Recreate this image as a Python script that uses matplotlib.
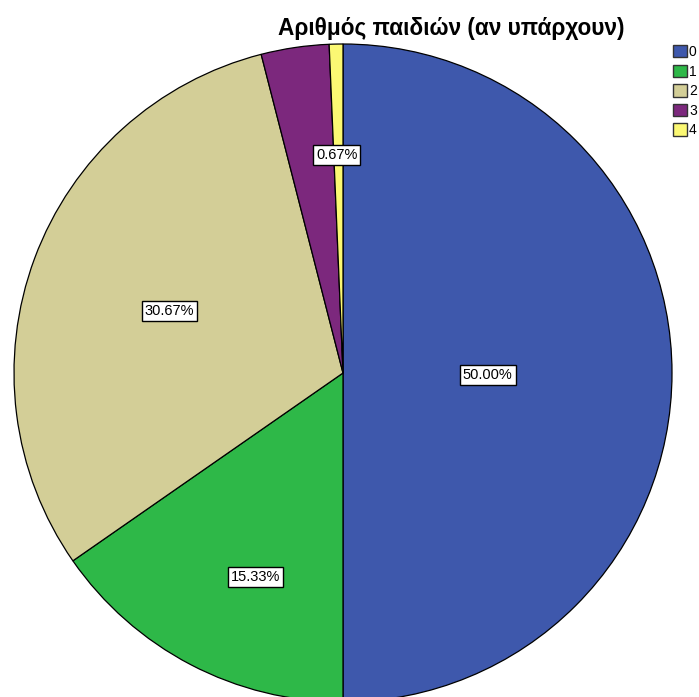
import numpy as np
import matplotlib.pyplot as plt
from matplotlib.patches import Patch

# data
categories = ['0', '1', '2', '3', '4']
percentages = [50.00, 15.33, 30.67, 3.33, 0.67]
shown_labels = ['50.00%', '15.33%', '30.67%', '', '0.67%']
colors = ['#3E58AC', '#2EB848', '#D3CE97', '#7C287D', '#FBF873']
title = 'Αριθμός παιδιών (αν υπάρχουν)'

# label placement: fraction of radius and angle nudge (deg) from the slice middle
label_radius = [0.44, 0.675, 0.56, 0.6, 0.663]
label_nudge = [-0.7, 4.3, 0.7, 0.0, 0.4]

plt.rcParams['font.family'] = ['Liberation Sans', 'DejaVu Sans']

fig = plt.figure(figsize=(6.99, 6.97), dpi=100)
ax = fig.add_axes([14 / 699, -5 / 697, 658 / 699, 658 / 697])

wedges, _ = ax.pie(percentages, colors=colors, startangle=90, counterclock=False,
                   radius=1.0, wedgeprops=dict(edgecolor='black', linewidth=0.9))
ax.set_xlim(-1, 1)
ax.set_ylim(-1, 1)
ax.set_aspect('equal')
ax.axis('off')

# slice labels in boxes
for w, lab, r, d in zip(wedges, shown_labels, label_radius, label_nudge):
    if not lab:
        continue
    ang = np.deg2rad((w.theta1 + w.theta2) / 2 + d)
    ax.text(r * np.cos(ang), r * np.sin(ang), lab, ha='center', va='center', fontsize=10.5,
            bbox=dict(boxstyle='square,pad=0.2', facecolor='white', edgecolor='black', linewidth=1.0))

fig.text(451 / 699, 1 - 28 / 697, title, ha='center', va='center', fontsize=16.3, fontweight='bold')

handles = [Patch(facecolor=c, edgecolor='#333333', linewidth=1.0) for c in colors]
fig.legend(handles, categories, loc='upper left', bbox_to_anchor=(673 / 699, 1 - 45 / 697),
           frameon=False, fontsize=10, handlelength=1.0, handleheight=1.0,
           handletextpad=0.15, labelspacing=0.4, borderaxespad=0, borderpad=0)

fig.savefig('out.png', dpi=100)
